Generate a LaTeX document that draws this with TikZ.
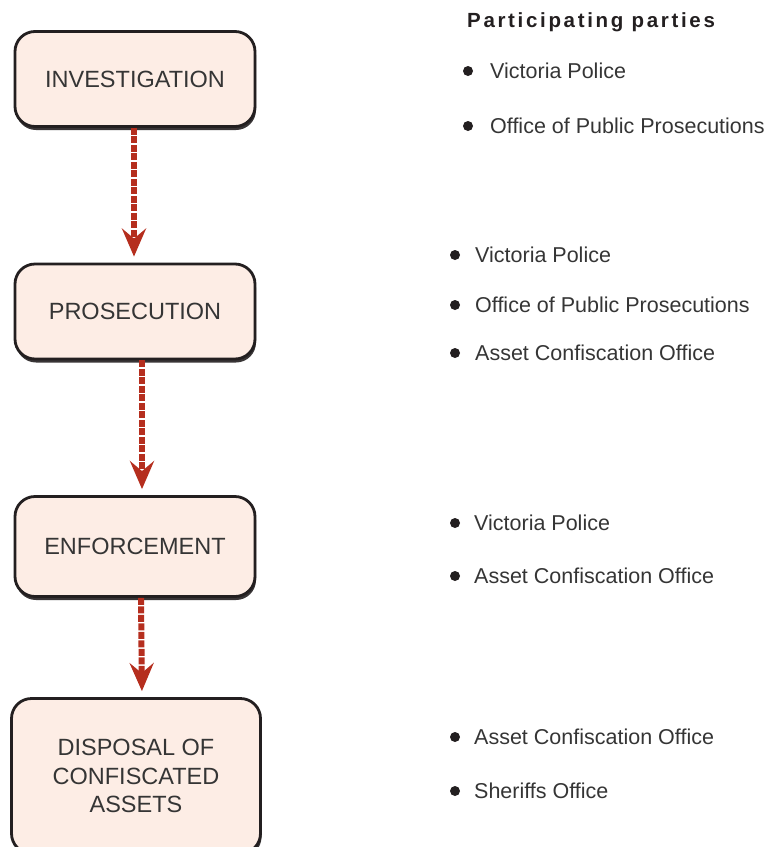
\documentclass[tikz,border=0pt]{standalone}
\usepackage{fontspec}
\setmainfont{Liberation Sans}
\usepackage{xcolor}
\usetikzlibrary{arrows.meta,shadows}

\definecolor{boxfill}{HTML}{FDEDE5}
\definecolor{boxline}{HTML}{231F20}
\definecolor{flowred}{HTML}{B52E1E}
\definecolor{txt}{HTML}{353535}

\tikzset{
	stage/.style={draw=boxline, line width=2.8pt, fill=boxfill, rounded corners=20pt, minimum width=240pt, align=center, text=txt, font=\fontsize{23.5}{28.5}\selectfont, drop shadow={shadow xshift=1pt, shadow yshift=-3.5pt, fill=boxline, opacity=0.9}},
	flow/.style={draw=flowred, line width=6pt, dash pattern=on 7pt off 1.5pt, -{Stealth[length=28pt,width=24pt,inset=10pt]}, shorten >=6pt},
	dot/.style={circle, fill=boxline, inner sep=0pt, minimum size=10pt},
	party/.style={anchor=base west, inner sep=0pt, text=txt, font=\fontsize{21.5}{25}\selectfont},
}

\begin{document}
\begin{tikzpicture}[x=1pt, y=-1pt]

\clip (0,0) rectangle (771,847);

\node[stage, minimum height=95pt] (inv) at (135,79) {INVESTIGATION};
\node[stage, minimum height=95pt] (pro) at (135,311.5) {PROSECUTION};
\node[stage, minimum height=100pt] (enf) at (135,546.5) {ENFORCEMENT};
\node[stage, minimum height=155pt, minimum width=249pt] (dis) at (136,776) {DISPOSAL OF\\CONFISCATED\\ASSETS};

\draw[flow] ([xshift=-1pt]inv.south) -- ([xshift=-1pt]pro.north);
\draw[flow] ([xshift=7pt]pro.south) -- ([xshift=7pt]enf.north);
\draw[flow] ([xshift=6pt]enf.south) -- ([xshift=6pt]dis.north);

\node[anchor=base west, inner sep=0pt, text=boxline, font=\fontsize{20.5}{24}\selectfont\bfseries\addfontfeature{LetterSpace=13}] (head) at (467,27) {Participating parties};

\def \b {468}
\def \c {78}
\node[dot] (d11) at (\b,\c-7) {};
\node[party] (p11) at (\b+22,\c) {Victoria Police};

\def \c {133}
\node[dot] (d12) at (\b,\c-7) {};
\node[party] (p12) at (\b+22,\c) {Office of Public Prosecutions};

\def \b {455}
\def \c {262}
\node[dot] (d21) at (\b,\c-7) {};
\node[party] (p21) at (\b+20,\c) {Victoria Police};

\def \c {312}
\node[dot] (d22) at (\b,\c-7) {};
\node[party] (p22) at (\b+20,\c) {Office of Public Prosecutions};

\def \c {360}
\node[dot] (d23) at (\b,\c-7) {};
\node[party] (p23) at (\b+20,\c) {Asset Confiscation Office};

\def \c {530}
\node[dot] (d31) at (\b,\c-7) {};
\node[party] (p31) at (\b+19,\c) {Victoria Police};

\def \c {583}
\node[dot] (d32) at (\b,\c-7) {};
\node[party] (p32) at (\b+19,\c) {Asset Confiscation Office};

\def \c {744}
\node[dot] (d41) at (\b,\c-7) {};
\node[party] (p41) at (\b+19,\c) {Asset Confiscation Office};

\def \c {798}
\node[dot] (d42) at (\b,\c-7) {};
\node[party] (p42) at (\b+19,\c) {Sheriffs Office};

\end{tikzpicture}
\end{document}
